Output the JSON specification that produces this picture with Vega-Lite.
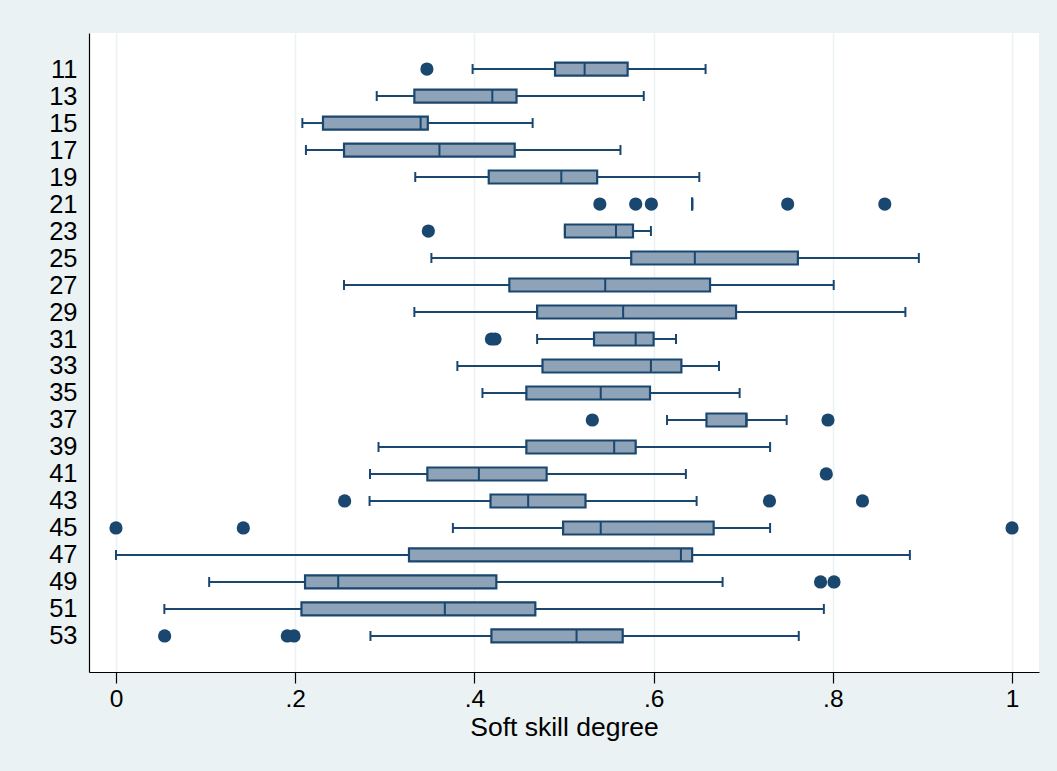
{
  "$schema": "https://vega.github.io/schema/vega-lite/v6.json",
  "width": 950,
  "height": 639,
  "autosize": {"type": "none"},
  "padding": {"left": 89, "top": 33, "right": 18, "bottom": 99},
  "background": "#EAF2F3",
  "config": {
    "view": {"stroke": null, "fill": "white"},
    "font": "Liberation Sans",
    "axis": {
      "labelFont": "Liberation Sans",
      "titleFont": "Liberation Sans",
      "labelColor": "black",
      "titleColor": "black",
      "domainColor": "black",
      "domainWidth": 1.2,
      "tickColor": "black",
      "tickWidth": 1.2,
      "titleFontWeight": "normal",
      "labelOverlap": false
    },
    "axisY": {"labelOverlap": false, "labelFontSize": 25.5, "labelPadding": 12, "ticks": false, "grid": false}
  },
  "datasets": {
    "boxes": [
      {"g": 11, "lo": 0.398, "q1": 0.490, "med": 0.523, "q3": 0.571, "hi": 0.658},
      {"g": 13, "lo": 0.291, "q1": 0.333, "med": 0.420, "q3": 0.447, "hi": 0.589},
      {"g": 15, "lo": 0.208, "q1": 0.231, "med": 0.340, "q3": 0.348, "hi": 0.465},
      {"g": 17, "lo": 0.212, "q1": 0.2545, "med": 0.361, "q3": 0.445, "hi": 0.563},
      {"g": 19, "lo": 0.334, "q1": 0.416, "med": 0.497, "q3": 0.537, "hi": 0.651},
      {"g": 21, "lo": 0.643, "q1": 0.643, "med": 0.643, "q3": 0.643, "hi": 0.643},
      {"g": 23, "lo": 0.501, "q1": 0.501, "med": 0.558, "q3": 0.577, "hi": 0.597},
      {"g": 25, "lo": 0.352, "q1": 0.575, "med": 0.646, "q3": 0.761, "hi": 0.896},
      {"g": 27, "lo": 0.2545, "q1": 0.439, "med": 0.546, "q3": 0.663, "hi": 0.801},
      {"g": 29, "lo": 0.333, "q1": 0.470, "med": 0.566, "q3": 0.692, "hi": 0.881},
      {"g": 31, "lo": 0.470, "q1": 0.5335, "med": 0.580, "q3": 0.600, "hi": 0.625},
      {"g": 33, "lo": 0.381, "q1": 0.476, "med": 0.597, "q3": 0.631, "hi": 0.673},
      {"g": 35, "lo": 0.409, "q1": 0.458, "med": 0.541, "q3": 0.596, "hi": 0.696},
      {"g": 37, "lo": 0.615, "q1": 0.659, "med": 0.7036, "q3": 0.7036, "hi": 0.7485},
      {"g": 39, "lo": 0.293, "q1": 0.458, "med": 0.556, "q3": 0.580, "hi": 0.730},
      {"g": 41, "lo": 0.2835, "q1": 0.3475, "med": 0.405, "q3": 0.4806, "hi": 0.636},
      {"g": 43, "lo": 0.283, "q1": 0.418, "med": 0.460, "q3": 0.524, "hi": 0.648},
      {"g": 45, "lo": 0.376, "q1": 0.499, "med": 0.541, "q3": 0.667, "hi": 0.730},
      {"g": 47, "lo": 0.0, "q1": 0.327, "med": 0.6305, "q3": 0.643, "hi": 0.886},
      {"g": 49, "lo": 0.104, "q1": 0.211, "med": 0.248, "q3": 0.4245, "hi": 0.677},
      {"g": 51, "lo": 0.054, "q1": 0.207, "med": 0.367, "q3": 0.468, "hi": 0.790},
      {"g": 53, "lo": 0.284, "q1": 0.419, "med": 0.514, "q3": 0.5655, "hi": 0.762}
    ],
    "outliers": [
      {"g": 11, "v": 0.347},
      {"g": 21, "v": 0.540},
      {"g": 21, "v": 0.580},
      {"g": 21, "v": 0.5975},
      {"g": 21, "v": 0.7496},
      {"g": 21, "v": 0.858},
      {"g": 23, "v": 0.3486},
      {"g": 31, "v": 0.419},
      {"g": 31, "v": 0.423},
      {"g": 37, "v": 0.5316},
      {"g": 37, "v": 0.7946},
      {"g": 41, "v": 0.7927},
      {"g": 43, "v": 0.2552},
      {"g": 43, "v": 0.7293},
      {"g": 43, "v": 0.8331},
      {"g": 45, "v": 0.0},
      {"g": 45, "v": 0.1421},
      {"g": 45, "v": 1.0},
      {"g": 49, "v": 0.7863},
      {"g": 49, "v": 0.8013},
      {"g": 53, "v": 0.0543},
      {"g": 53, "v": 0.1912},
      {"g": 53, "v": 0.1987}
    ]
  },
  "encoding": {
    "y": {
      "field": "g", "type": "quantitative", "title": null,
      "scale": {"domain": [8.33, 55.67], "nice": false, "zero": false, "reverse": true, "padding": 0},
      "axis": {
        "values": [11, 13, 15, 17, 19, 21, 23, 25, 27, 29, 31, 33, 35, 37, 39, 41, 43, 45, 47, 49, 51, 53],
        "ticks": false, "grid": false, "labelPadding": 12, "labelFontSize": 25.5, "labelFlush": false, "labelOverlap": false
      }
    }
  },
  "layer": [
    {
      "data": {"name": "boxes"},
      "mark": {"type": "rule", "color": "#1A476F", "strokeWidth": 2},
      "encoding": {
        "x": {
          "field": "lo", "type": "quantitative", "title": "Soft skill degree",
          "scale": {"domain": [-0.0301, 1.0301], "nice": false, "zero": false, "padding": 0},
          "axis": {
            "values": [0, 0.2, 0.4, 0.6, 0.8, 1],
            "labelExpr": "datum.value == 0 ? '0' : datum.value == 1 ? '1' : replace(format(datum.value, '.1f'), '0.', '.')",
            "grid": true, "gridColor": "#EAF2F3", "gridWidth": 1.5,
            "tickSize": 11, "labelPadding": 4, "labelFontSize": 24.5,
            "titleFontSize": 26.5, "titlePadding": 4, "labelFlush": false, "labelOverlap": false
          }
        },
        "x2": {"field": "q1"}
      }
    },
    {
      "data": {"name": "boxes"},
      "mark": {"type": "rule", "color": "#1A476F", "strokeWidth": 2},
      "encoding": {
        "x": {"field": "q3", "type": "quantitative", "title": "Soft skill degree"},
        "x2": {"field": "hi"}
      }
    },
    {
      "data": {"name": "boxes"},
      "mark": {"type": "tick", "orient": "vertical", "color": "#1A476F", "size": 10, "thickness": 2, "opacity": 1},
      "encoding": {
        "x": {"field": "lo", "type": "quantitative", "title": "Soft skill degree"}
      }
    },
    {
      "data": {"name": "boxes"},
      "mark": {"type": "tick", "orient": "vertical", "color": "#1A476F", "size": 10, "thickness": 2, "opacity": 1},
      "encoding": {
        "x": {"field": "hi", "type": "quantitative", "title": "Soft skill degree"}
      }
    },
    {
      "data": {"name": "boxes"},
      "mark": {"type": "bar", "orient": "horizontal", "height": 13, "fill": "#8EA3B7", "stroke": "#1A476F", "strokeWidth": 2.2, "opacity": 1},
      "encoding": {
        "x": {"field": "q1", "type": "quantitative", "title": "Soft skill degree"},
        "x2": {"field": "q3"}
      }
    },
    {
      "data": {"name": "boxes"},
      "mark": {"type": "tick", "orient": "vertical", "color": "#1A476F", "size": 13, "thickness": 2, "opacity": 1},
      "encoding": {
        "x": {"field": "med", "type": "quantitative", "title": "Soft skill degree"}
      }
    },
    {
      "data": {"name": "outliers"},
      "mark": {"type": "point", "shape": "circle", "filled": true, "color": "#1A476F", "size": 175, "opacity": 1},
      "encoding": {
        "x": {"field": "v", "type": "quantitative", "title": "Soft skill degree"}
      }
    }
  ]
}
